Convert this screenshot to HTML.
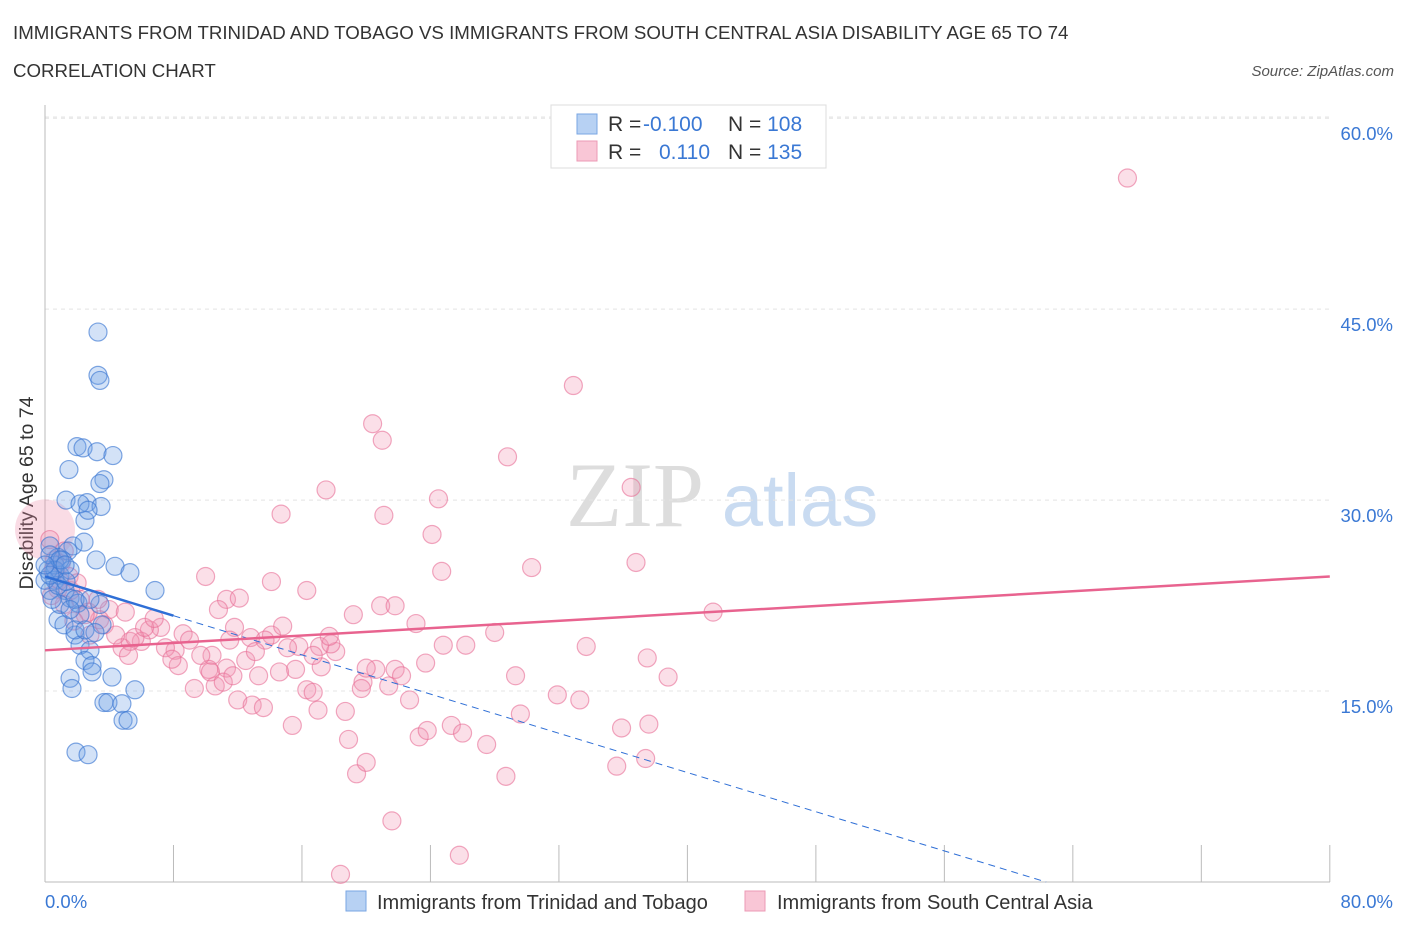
<!DOCTYPE html>
<html><head><meta charset="utf-8"><style>
body{margin:0;background:#fff;font-family:"Liberation Sans",sans-serif}
</style></head><body>
<svg id="chart" width="1406" height="930" viewBox="0 0 1406 930" xmlns="http://www.w3.org/2000/svg" font-family="Liberation Sans, sans-serif">
<text x="13" y="39" font-size="18.7" fill="#333">IMMIGRANTS FROM TRINIDAD AND TOBAGO VS IMMIGRANTS FROM SOUTH CENTRAL ASIA DISABILITY AGE 65 TO 74</text>
<text x="13" y="77" font-size="18.7" fill="#333">CORRELATION CHART</text>
<text x="1394" y="76" font-size="15" fill="#555" font-style="italic" text-anchor="end">Source: ZipAtlas.com</text>
<text transform="translate(33,493) rotate(-90)" font-size="19.5" fill="#333" text-anchor="middle">Disability Age 65 to 74</text>
<g><text x="635" y="526" font-size="92" fill="#ddd" font-family="Liberation Serif, serif" text-anchor="middle">ZIP</text><text x="800" y="526" font-size="74" fill="#c9dbf1" text-anchor="middle">atlas</text></g>
<g id="grid"></g><g id="axes"></g><g id="pts"></g><g id="trends"></g>
<g>
<rect x="551" y="105" width="275" height="63" fill="#fff" stroke="#ddd"/>
<rect x="577" y="114" width="20" height="20" fill="#b7d1f3" stroke="#7aa6e3"/>
<rect x="577" y="141" width="20" height="20" fill="#f9c6d6" stroke="#ec9ab5"/>
<text x="608" y="131" font-size="21" fill="#333">R = <tspan fill="#3a78d4" x="643">-0.100</tspan></text>
<text x="728" y="131" font-size="21" fill="#333">N = <tspan fill="#3a78d4">108</tspan></text>
<text x="608" y="159" font-size="21" fill="#333">R = <tspan fill="#3a78d4" x="659">0.110</tspan></text>
<text x="728" y="159" font-size="21" fill="#333">N = <tspan fill="#3a78d4">135</tspan></text>
</g>
<g>
<rect x="346" y="891" width="20" height="20" fill="#b7d1f3" stroke="#7aa6e3"/>
<text x="377" y="909" font-size="20" fill="#333">Immigrants from Trinidad and Tobago</text>
<rect x="745" y="891" width="20" height="20" fill="#f9c6d6" stroke="#ec9ab5"/>
<text x="777" y="909" font-size="20" fill="#333">Immigrants from South Central Asia</text>
</g>
</svg>
<script>
const blueX=[3.3,3.3,3.42,1.99,2.37,3.24,4.23,1.49,3.67,3.42,1.31,2.62,3.49,2.18,2.49,2.68,0.31,1.74,3.18,0.81,1.43,4.36,5.29,6.85,2.43,0.93,0.62,0.31,1.25,1.56,2.05,3.42,0.81,1.87,2.18,2.8,2.49,2.93,2.93,4.17,5.6,1.56,1.68,3.67,3.92,4.79,4.86,5.17,1.93,2.68,0.93,2.18,3.55,1.18,1.87,0.62,0.19,0.44,1.06,1.56,0,0.31,0.81,1.31,1.87,2.8,1.56,2.49,3.11,0.62,0.93,0.31,1.25,0];
const blueY=[43.2,39.8,39.4,34.2,34.1,33.8,33.5,32.4,31.6,31.3,30.0,29.8,29.5,29.7,28.4,29.2,26.4,26.4,25.3,25.5,26.0,24.8,24.3,22.9,26.7,24.1,23.7,22.9,22.9,22.3,21.9,21.8,20.6,19.4,18.6,18.2,17.4,17.0,16.5,16.1,15.1,16.0,15.2,14.1,14.1,14.0,12.7,12.7,10.2,10.0,21.8,21.0,20.2,20.2,19.8,24.9,24.5,22.2,25.3,24.5,23.7,25.7,23.3,23.6,22.2,22.2,21.4,19.8,19.6,24.5,25.3,24.1,24.9,24.9];
const pinkX=[67.4,32.9,20.4,21.0,28.8,17.5,24.5,36.5,14.7,21.1,24.1,36.8,24.7,30.3,10.0,14.1,41.6,16.3,11.3,20.9,21.8,19.2,23.1,10.8,12.1,28.0,26.2,24.8,33.7,23.7,29.3,37.5,38.8,31.9,33.3,22.7,21.4,19.8,20.6,21.8,19.7,17.2,15.6,16.3,16.7,17.0,18.7,15.4,12.0,12.9,13.6,10.6,9.3,12.8,14.1,8.6,9.0,7.2,6.5,6.0,4.8,8.1,7.5,10.4,12.5,13.3,14.6,15.8,17.1,18.1,17.8,16.7,11.8,14.8,23.3,23.8,25.3,26.0,27.5,28.7,35.6,37.4,35.9,37.6,29.6,18.9,19.4,20.0,21.6,25.8,18.4,10.2,8.3,11.3,13.7,4.0,5.0,3.4,5.3,2.8,2.2,1.6,0.9,0.6,0.3,1.2,2.7,3.7,3.3,4.4,5.2,5.6,6.2,6.8,7.9,9.7,10.3,11.5,15.1,11.1,13.1,17.7,20.0,22.2,11.7,0.5,1.0,1.5,0.8,2.0,1.2,0.4,2.5,1.8];
const pinkY=[55.3,39.0,36.0,34.7,33.4,30.8,30.1,31.0,28.9,28.8,27.3,25.1,24.4,24.7,24.0,23.6,21.2,22.9,22.2,21.7,21.7,21.0,20.3,21.4,22.3,19.6,18.6,18.6,18.5,17.2,16.2,17.6,16.1,14.7,14.3,14.3,15.4,15.7,16.7,16.7,15.2,16.9,16.7,15.1,14.9,13.5,13.4,12.3,14.3,13.9,13.7,15.4,15.2,19.2,19.4,19.5,19.0,20.0,19.8,18.9,18.4,18.2,18.4,17.8,17.4,16.2,16.5,18.5,18.5,18.1,18.7,17.8,20.0,20.1,11.4,11.9,12.3,11.7,10.8,8.3,9.1,9.7,12.1,12.4,13.2,11.2,8.5,9.4,4.8,2.1,0.6,16.7,17.0,16.8,19.0,21.4,21.2,20.6,18.9,19.4,22.2,22.9,23.7,25.3,26.9,21.8,21.2,20.2,22.2,19.4,17.8,19.2,20.0,20.7,17.5,17.8,16.5,19.0,18.4,15.7,18.1,19.3,16.8,16.2,16.2,24.5,25.0,24.0,23.0,23.5,26.0,22.5,21.0,20.5];
const yTicks=[15,30,45,60];
const yTickLabels=["15.0%","30.0%","45.0%","60.0%"];
const xTicks=[0,8,16,24,32,40,48,56,64,72,80];
const blueTrend=[24.0,-0.385];   // intercept, slope
const pinkTrend=[18.2,0.0725];

const sx=v=>45+v*16.06, sy=v=>882-v*12.73;
const NS="http://www.w3.org/2000/svg";
function mk(tag,attrs,parent){const e=document.createElementNS(NS,tag);for(const k in attrs)e.setAttribute(k,attrs[k]);parent.appendChild(e);return e;}
const grid=document.getElementById('grid'),axes=document.getElementById('axes'),pts=document.getElementById('pts'),tr=document.getElementById('trends');
yTicks.forEach((t,i)=>{
 const l=mk('line',{x1:45,x2:1330,y1:sy(t),y2:sy(t),stroke:'#e4e4e4','stroke-dasharray':'4,4'},grid);
 
 
 const tx=mk('text',{x:1393,y:sy(t)+22,'font-size':18.5,fill:'#3a78d4','text-anchor':'end'},axes);
 tx.textContent=yTickLabels[i];
 
 
});
const tl=mk('line',{x1:45,x2:1330,y1:117,y2:117,stroke:'#e4e4e4','stroke-dasharray':'4,4'},grid);


const ya=mk('line',{x1:45,x2:45,y1:105,y2:882,stroke:'#bbb'},axes);


const xa=mk('line',{x1:45,x2:1330,y1:882,y2:882,stroke:'#bbb'},axes);


xTicks.forEach(t=>{const l=mk('line',{x1:sx(t),x2:sx(t),y1:845,y2:882,stroke:'#bbb'},axes);
 
 });
const x0=mk('text',{x:45,y:908,'font-size':18.5,fill:'#3a78d4'},axes);x0.textContent='0.0%';


const x1=mk('text',{x:1393,y:908,'font-size':18.5,fill:'#3a78d4','text-anchor':'end'},axes);x1.textContent='80.0%';


const big=mk('circle',{cx:sx(0),cy:sy(27.7),r:30,fill:'rgba(240,140,170,0.3)',stroke:'none'},pts);


pinkX.forEach((x,i)=>{const c=mk('circle',{cx:sx(x),cy:sy(pinkY[i]),r:9,fill:'rgba(242,150,180,0.3)',stroke:'rgba(232,110,150,0.6)','stroke-width':1.2},pts);
 
 });
blueX.forEach((x,i)=>{const c=mk('circle',{cx:sx(x),cy:sy(blueY[i]),r:9,fill:'rgba(110,160,230,0.3)',stroke:'rgba(60,120,210,0.65)','stroke-width':1.2},pts);
 
 });
const bEnd=-blueTrend[0]/blueTrend[1];
const bs=mk('line',{x1:sx(0),y1:sy(blueTrend[0]),x2:sx(8),y2:sy(blueTrend[0]+8*blueTrend[1]),stroke:'#2f6fd6','stroke-width':2.5},tr);


const bd=mk('line',{x1:sx(8),y1:sy(blueTrend[0]+8*blueTrend[1]),x2:sx(bEnd),y2:sy(0),stroke:'#2f6fd6','stroke-width':1,'stroke-dasharray':'7,5'},tr);


const pl=mk('line',{x1:sx(0),y1:sy(pinkTrend[0]),x2:sx(80),y2:sy(pinkTrend[0]+80*pinkTrend[1]),stroke:'#e8638f','stroke-width':2.5},tr);


</script>
</body></html>
